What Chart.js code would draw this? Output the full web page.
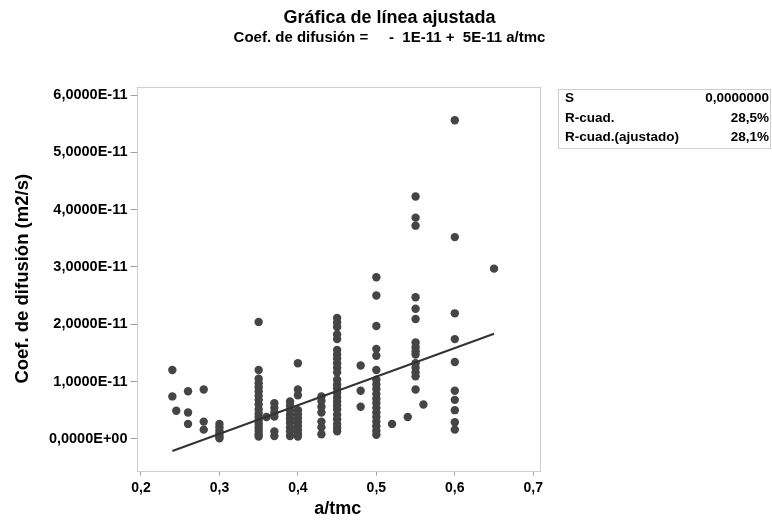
<!DOCTYPE html>
<html>
<head>
<meta charset="utf-8">
<script src="https://cdn.jsdelivr.net/npm/chart.js@4/dist/chart.umd.min.js"></script>
<style>
  html, body { margin: 0; padding: 0; background: #fff; }
  #wrap { width: 772px; height: 521px; }
</style>
</head>
<body>
<div id="wrap"><canvas id="fitCanvas" width="772" height="521"></canvas></div>
<script>
// a/tmc for each observation
var aTmc = [
  0.24, 0.24, 0.245,
  0.26, 0.26, 0.26,
  0.28, 0.28, 0.28,
  0.30, 0.30, 0.30, 0.30, 0.30, 0.30,
  0.35, 0.35, 0.35, 0.35, 0.35, 0.35, 0.35, 0.35, 0.35, 0.35, 0.35, 0.35, 0.35, 0.35, 0.35, 0.35, 0.35, 0.35,
  0.36,
  0.37, 0.37, 0.37, 0.37, 0.37, 0.37,
  0.39, 0.39, 0.39, 0.39, 0.39, 0.39, 0.39, 0.39, 0.39,
  0.40, 0.40, 0.40, 0.40, 0.40, 0.40, 0.40, 0.40, 0.40, 0.40, 0.40,
  0.43, 0.43, 0.43, 0.43, 0.43, 0.43, 0.43,
  0.45, 0.45, 0.45, 0.45, 0.45, 0.45, 0.45, 0.45, 0.45, 0.45, 0.45, 0.45, 0.45, 0.45, 0.45, 0.45, 0.45, 0.45, 0.45, 0.45, 0.45, 0.45, 0.45, 0.45,
  0.48, 0.48, 0.48,
  0.50, 0.50, 0.50, 0.50, 0.50, 0.50, 0.50, 0.50, 0.50, 0.50, 0.50, 0.50, 0.50, 0.50, 0.50, 0.50, 0.50, 0.50, 0.50,
  0.52,
  0.54,
  0.55, 0.55, 0.55, 0.55, 0.55, 0.55, 0.55, 0.55, 0.55, 0.55, 0.55, 0.55, 0.55, 0.55, 0.55,
  0.56,
  0.60, 0.60, 0.60, 0.60, 0.60, 0.60, 0.60, 0.60, 0.60, 0.60,
  0.65
];
// Coef. de difusion, in units of 1E-11 m2/s
var coefE11 = [
  1.20, 0.74, 0.49,
  0.83, 0.46, 0.26,
  0.86, 0.30, 0.16,
  0.26, 0.20, 0.14, 0.09, 0.04, 0.01,
  2.04, 1.20, 1.05, 0.97, 0.90, 0.83, 0.75, 0.68, 0.60, 0.51, 0.44, 0.38, 0.32, 0.26, 0.20, 0.14, 0.08, 0.04,
  0.38,
  0.62, 0.54, 0.46, 0.39, 0.13, 0.05,
  0.65, 0.58, 0.50, 0.42, 0.35, 0.28, 0.20, 0.13, 0.05,
  1.32, 0.86, 0.76, 0.50, 0.43, 0.36, 0.29, 0.22, 0.15, 0.08, 0.04,
  0.74, 0.66, 0.56, 0.46, 0.30, 0.20, 0.08,
  2.11, 2.03, 1.95, 1.82, 1.74, 1.55, 1.47, 1.40, 1.32, 1.24, 1.16, 1.03, 0.95, 0.88, 0.80, 0.72, 0.65, 0.58, 0.51, 0.42, 0.34, 0.26, 0.19, 0.13,
  1.28, 0.84, 0.56,
  2.82, 2.50, 1.97, 1.57, 1.45, 1.20, 1.03, 0.95, 0.87, 0.78, 0.70, 0.62, 0.54, 0.46, 0.38, 0.30, 0.22, 0.14, 0.07,
  0.26,
  0.38,
  4.23, 3.86, 3.72, 2.47, 2.27, 2.09, 1.68, 1.60, 1.53, 1.47, 1.32, 1.24, 1.16, 1.09, 0.86,
  0.60,
  5.56, 3.52, 2.19, 1.74, 1.34, 0.84, 0.68, 0.50, 0.29, 0.16,
  2.97
];
// fitted line (E-11 units): coef = b0 + b1 * a/tmc
var fitIntercept = -1.41;
var fitSlope = 4.99;

var xTicks = [0.2, 0.3, 0.4, 0.5, 0.6, 0.7];
var yTicks = [0, 1, 2, 3, 4, 5, 6];

var statLabels = ['S', 'R-cuad.', 'R-cuad.(ajustado)'];
var statValues = ['0,0000000', '28,5%', '28,1%'];

var FONT = '"Liberation Sans", Arial, Helvetica, sans-serif';

var points = [];
for (var i = 0; i < aTmc.length; i++) {
  points.push({ x: aTmc[i], y: coefE11[i] });
}
var xLo = Math.min.apply(null, aTmc);
var xHi = Math.max.apply(null, aTmc);
var fitLine = [
  { x: xLo, y: fitIntercept + fitSlope * xLo },
  { x: xHi, y: fitIntercept + fitSlope * xHi }
];

// light frame round the data area + the stats box on the right
var framePlugin = {
  id: 'frameAndStats',
  beforeDatasetsDraw: function (chart) {
    var ctx = chart.ctx, a = chart.chartArea;
    ctx.save();
    ctx.strokeStyle = '#cfcfcf';
    ctx.lineWidth = 1;
    ctx.strokeRect(Math.round(a.left) + 0.5, Math.round(a.top) + 0.5,
      Math.round(a.right - a.left), Math.round(a.bottom - a.top));
    ctx.restore();
  },
  afterDraw: function (chart) {
    var ctx = chart.ctx;
    ctx.save();
    ctx.strokeStyle = '#cfcfcf';
    ctx.lineWidth = 1;
    ctx.strokeRect(558.5, 89.5, 212, 59);
    ctx.fillStyle = '#000';
    ctx.font = 'bold 13.5px ' + FONT;
    ctx.textBaseline = 'middle';
    var rowY = [98, 118, 137];
    for (var r = 0; r < statLabels.length; r++) {
      ctx.textAlign = 'left';
      ctx.fillText(statLabels[r], 565, rowY[r]);
      ctx.textAlign = 'right';
      ctx.fillText(statValues[r], 769, rowY[r]);
    }
    ctx.restore();
  }
};

function yLabel(v) {
  if (v === 0) return '0,0000E+00';
  return v.toFixed(4).replace('.', ',') + 'E-11';
}

new Chart(document.getElementById('fitCanvas'), {
  type: 'scatter',
  data: {
    datasets: [
      {
        type: 'line',
        data: fitLine,
        borderColor: '#333333',
        borderWidth: 2,
        pointRadius: 0,
        fill: false
      },
      {
        data: points,
        backgroundColor: '#454545',
        borderWidth: 0,
        pointRadius: 4.2,
        pointHoverRadius: 4.2
      }
    ]
  },
  options: {
    responsive: false,
    animation: false,
    events: [],
    layout: { padding: { left: 7, right: 0, top: 0, bottom: 0 } },
    plugins: {
      legend: { display: false },
      tooltip: { enabled: false },
      title: {
        display: true,
        text: 'Gráfica de línea ajustada',
        color: '#000',
        font: { family: FONT, size: 18, weight: 'bold', lineHeight: 1.2 },
        padding: { top: 7, bottom: 0 }
      },
      subtitle: {
        display: true,
        text: 'Coef. de difusión =     -  1E-11 +  5E-11 a/tmc',
        color: '#000',
        font: { family: FONT, size: 15, weight: 'bold', lineHeight: 1.2 },
        padding: { top: 0, bottom: 40.4 }
      }
    },
    scales: {
      x: {
        type: 'linear',
        min: 0.1943,
        max: 0.7073,
        afterBuildTicks: function (axis) {
          axis.ticks = xTicks.map(function (v) { return { value: v }; });
        },
        afterFit: function (axis) { axis.height = 50.5; },
        border: { display: false },
        grid: { drawOnChartArea: false, drawTicks: true, tickLength: 5, tickColor: '#a0a0a0' },
        ticks: {
          color: '#000',
          padding: 4,
          font: { family: FONT, size: 14, weight: 'bold' },
          callback: function (v) { return v.toFixed(1).replace('.', ','); }
        },
        title: {
          display: true,
          text: 'a/tmc',
          color: '#000',
          font: { family: FONT, size: 18, weight: 'bold', lineHeight: 1.2 },
          padding: { top: 0, bottom: 1 }
        }
      },
      y: {
        type: 'linear',
        min: -0.553,
        max: 6.14,
        afterBuildTicks: function (axis) {
          axis.ticks = yTicks.map(function (v) { return { value: v }; });
        },
        afterFit: function (axis) { axis.width = 129.5; },
        border: { display: false },
        grid: { drawOnChartArea: false, drawTicks: true, tickLength: 6, tickColor: '#a0a0a0' },
        ticks: {
          color: '#000',
          padding: 3,
          font: { family: FONT, size: 14.5, weight: 'bold' },
          callback: function (v) { return yLabel(v); }
        },
        title: {
          display: true,
          text: 'Coef. de difusión (m2/s)',
          color: '#000',
          font: { family: FONT, size: 18.5, weight: 'bold', lineHeight: 1.2 },
          padding: { top: 5, bottom: 0 }
        }
      },
      // empty right-hand space that holds the stats box
      side: {
        type: 'linear',
        position: 'right',
        display: true,
        afterFit: function (axis) { axis.width = 233; },
        border: { display: false },
        grid: { display: false },
        ticks: { display: false }
      }
    }
  },
  plugins: [framePlugin]
});
</script>
</body>
</html>
